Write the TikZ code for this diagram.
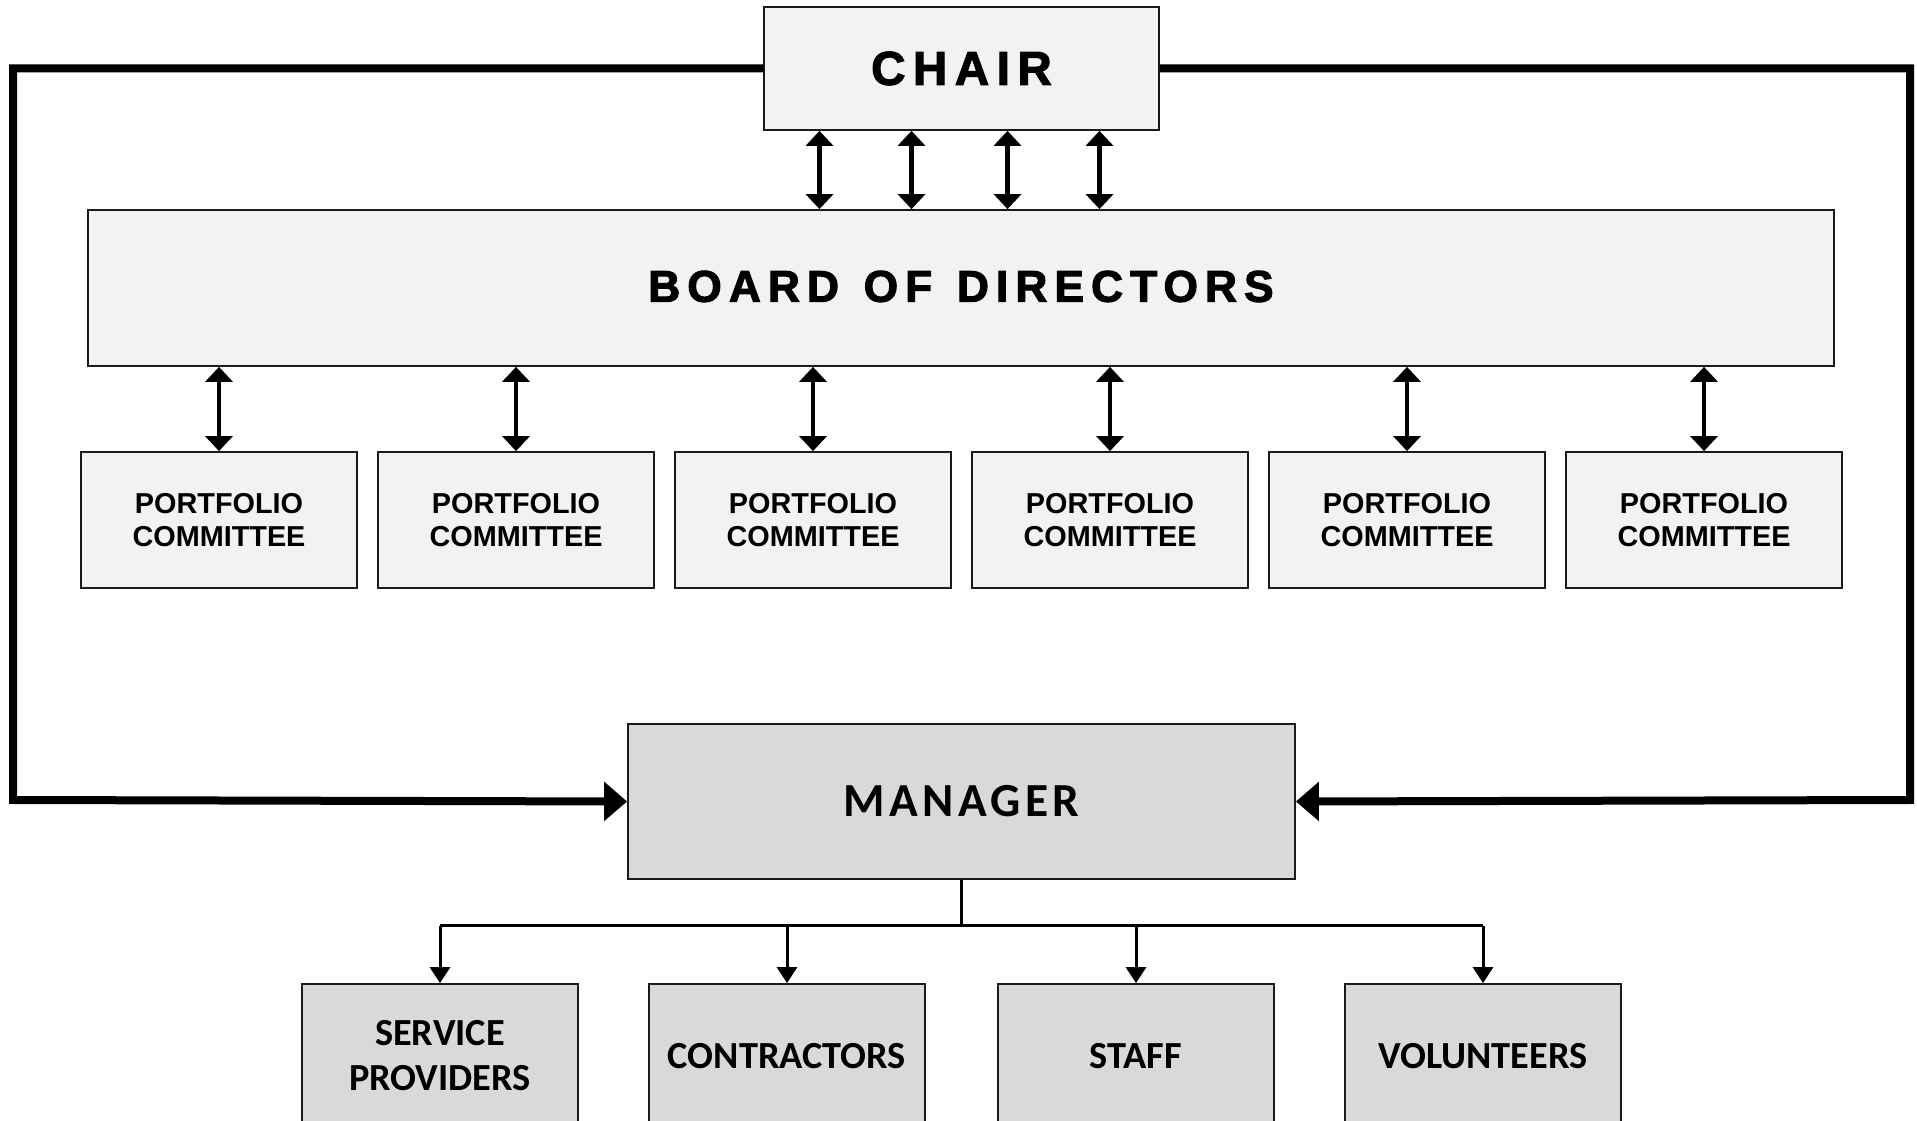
\documentclass[tikz,border=0pt]{standalone}
\usepackage{fontspec}
\setmainfont{Liberation Sans}
\newfontfamily\widefont[LetterSpace=16,FakeBold=2.4]{Liberation Sans Bold}
\newfontfamily\calfont{Carlito Bold}
\newfontfamily\calwide[LetterSpace=9]{Carlito Bold}
\usepackage{tikz}
\usetikzlibrary{arrows.meta,positioning}
\definecolor{clight}{HTML}{F2F2F2}
\definecolor{cmid}{HTML}{D9D9D9}
\definecolor{cink}{HTML}{1A1A1A}
\tikzset{
  box/.style={draw=cink,line width=0.5pt,inner sep=2pt,align=center},
  topbox/.style={box,fill=clight},
  cmtbox/.style={box,fill=clight,minimum width=2.76cm,minimum height=1.36cm,
                 font=\bfseries\fontsize{8.2}{9.4}\selectfont},
  mgrbox/.style={box,fill=cmid},
  staffbox/.style={box,fill=cmid,minimum width=2.76cm,minimum height=1.44cm,
                   font=\calfont\fontsize{10.9}{12.8}\selectfont},
  dbl/.style={{Triangle[length=0.15cm,width=0.27cm]}-{Triangle[length=0.15cm,width=0.27cm]},
              line width=0.045cm},
  loopline/.style={-{Triangle[length=0.23cm,width=0.38cm]},line width=0.08cm},
  feed/.style={line width=0.03cm},
  feedarr/.style={feed,-{Triangle[length=0.16cm,width=0.2cm]}},
}

\begin{document}
\begin{tikzpicture}
\useasboundingbox (0,0) rectangle (19.17,-11.21);

% ---- chair and board ----
\node[topbox,minimum width=3.95cm,minimum height=1.23cm,
      font=\widefont\fontsize{13.5}{16}\selectfont] (chair) at (9.615,-0.685) {CHAIR};
\node[topbox,minimum width=17.46cm,minimum height=1.56cm,
      font=\widefont\fontsize{12.6}{15}\selectfont] (board) at (9.61,-2.88)
      {\raisebox{1pt}{BOARD \hspace{0.12em}OF \hspace{0.12em}DIRECTORS}};
\foreach \dx in {-1.42,-0.50,0.46,1.38}
  \draw[dbl] ([xshift=\dx cm]chair.south) -- ([xshift=\dx cm]chair.south |- board.north);

% ---- portfolio committees ----
\foreach \i in {0,...,5}{
  \node[cmtbox] (cmt\i) at (2.19+2.97*\i,-5.20) {PORTFOLIO\\COMMITTEE};
  \draw[dbl] (cmt\i.north |- board.south) -- (cmt\i.north);
}

% ---- manager with the outer loop ----
\node[mgrbox,minimum width=6.67cm,minimum height=1.55cm,
      font=\calwide\fontsize{13.5}{16}\selectfont] (mgr) at (9.615,-8.015) {MANAGER};
\coordinate (cornerL) at (0.13,-8.00);
\coordinate (cornerR) at (19.10,-8.00);
\draw[loopline] (chair.west) -| (cornerL) -- (mgr.west);
\draw[loopline] (chair.east) -| (cornerR) -- (mgr.east);

% ---- people under the manager ----
\node[staffbox] (serv) at (4.40,-10.56) {SERVICE\\PROVIDERS};
\node[staffbox] (contr) at (7.87,-10.56) {CONTRACTORS};
\node[staffbox] (staff) at (11.36,-10.56) {STAFF};
\node[staffbox] (vol) at (14.83,-10.56) {VOLUNTEERS};
\draw[feed] (mgr.south) -- ++(0,-0.46) coordinate (hub);
\draw[feed] (hub -| serv.north) -- (hub -| vol.north);
\foreach \b in {serv,contr,staff,vol}
  \draw[feedarr] (hub -| \b.north) -- (\b.north);

\end{tikzpicture}
\end{document}
